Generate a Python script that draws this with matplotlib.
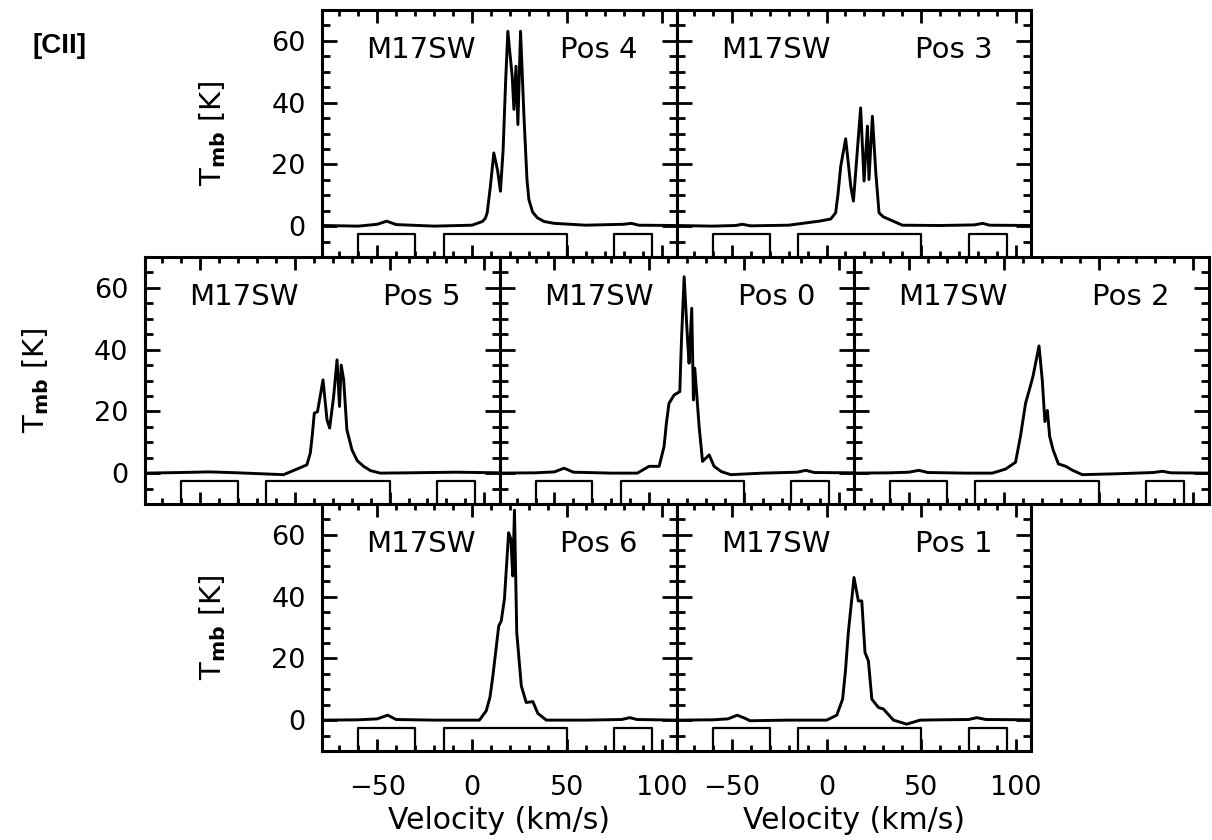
"""
[CII] spectra of M17SW, 7 positions in a hexagonal panel layout
"""

import matplotlib
matplotlib.use("Agg")
import matplotlib.pyplot as plt
from matplotlib.ticker import MultipleLocator

# 0. Data (velocity in km/s, Tmb in K)
v_pos4 = [-79, -60, -50, -45, -40, -20, 0, 5.5, 7.0, 8.0, 9.7, 11.5, 13.5, 15.0, 16.4, 17.7,
          18.9, 20.0, 21.2, 22.1, 23.2, 24.2, 25.6, 27.4, 29.0, 30.0, 32.0, 34.5, 38.0, 43.3,
          60, 80, 84, 88, 108]
t_pos4 = [0.2, 0.0, 0.6, 1.6, 0.5, 0.0, 0.3, 1.5, 2.5, 4.3, 12.9, 23.7, 18.0, 11.3, 24.6, 46.4,
          63.1, 56.0, 48.5, 37.8, 51.8, 32.9, 63.1, 35.6, 15.0, 8.6, 4.5, 2.7, 1.5, 0.9,
          0.3, 0.6, 0.9, 0.3, 0.2]

v_pos3 = [-79, -60, -48, -44.5, -40, -20, -4.0, 2.2, 4.8, 6.0, 7.5, 10.1, 12.8, 14.2, 15.9,
          18.0, 19.8, 21.6, 22.4, 24.2, 26.0, 27.7, 30.0, 33.0, 40.0, 60, 78, 82.3, 86, 108]
t_pos3 = [0.2, 0.0, 0.2, 0.6, 0.1, 0.3, 1.6, 2.3, 4.3, 10.0, 19.4, 28.3, 12.9, 8.1, 21.6,
          38.3, 14.6, 32.4, 15.1, 35.6, 17.3, 4.3, 3.0, 2.2, 0.3, 0.2, 0.4, 0.9, 0.3, 0.2]

v_pos5 = [-79, -60, -45, -30, -5.9, 1.1, 6.4, 8.2, 9.2, 10.3, 12.0, 14.9, 17.0, 18.4, 20.5,
          22.3, 23.6, 24.5, 25.8, 27.5, 30.2, 33.0, 36.3, 40.0, 45.1, 60, 85, 108]
t_pos5 = [0.0, 0.2, 0.4, 0.1, -0.5, 1.3, 2.7, 6.5, 12.0, 19.4, 19.9, 30.2, 17.3, 14.6, 24.8,
          36.7, 21.6, 35.0, 30.2, 14.0, 7.5, 4.0, 2.2, 0.8, 0.0, 0.1, 0.3, 0.1]

v_pos0 = [-79, -60, -50, -45, -40, -20, -6.3, -0.1, 5.2, 7.8, 9.0, 10.4, 13.1, 16.1, 17.0,
          18.4, 20.2, 21.0, 22.4, 23.3, 24.0, 26.3, 28.1, 31.6, 34.2, 38.0, 43.0, 60, 78, 82.6,
          87, 108]
t_pos0 = [0.0, 0.1, 0.4, 1.6, 0.3, 0.0, 0.0, 2.2, 2.2, 8.6, 16.0, 22.6, 25.3, 26.4, 43.1,
          63.6, 43.1, 35.6, 53.4, 23.7, 34.0, 15.1, 3.8, 5.9, 2.2, 0.5, -0.5, 0.0, 0.3, 0.9,
          0.2, 0.1]

v_pos2 = [-79, -60, -50, -44.8, -40, -20, -6.1, 0.9, 6.2, 8.8, 11.5, 13.5, 15.4, 18.6, 20.3,
          21.7, 23.0, 24.2, 26.0, 28.8, 32.7, 36.0, 41.4, 60, 79, 83.7, 88, 108]
t_pos2 = [0.0, 0.1, 0.3, 0.9, 0.2, 0.0, 0.0, 1.3, 3.5, 11.9, 22.6, 27.0, 31.3, 41.2, 30.2,
          16.7, 20.3, 11.9, 7.6, 3.0, 2.2, 1.0, -0.5, -0.2, 0.2, 0.6, 0.1, 0.0]

v_pos6 = [-79, -60, -50, -44.5, -40, -20, 3.9, 7.5, 9.5, 11.0, 14.1, 15.4, 17.1, 19.3, 20.5,
          21.5, 22.4, 23.6, 26.0, 28.6, 32.1, 34.7, 39.2, 60, 79, 83.2, 87, 108]
t_pos6 = [0.0, 0.1, 0.4, 1.6, 0.2, 0.0, 0.0, 3.0, 7.5, 14.3, 30.5, 32.1, 39.2, 60.7, 58.6,
          46.7, 68.0, 28.4, 11.1, 5.7, 6.0, 2.2, 0.0, 0.0, 0.2, 0.8, 0.2, 0.0]

v_pos1 = [-79, -60, -52, -47.1, -43, -40.4, -20, 0.1, 5.4, 8.5, 10.0, 11.5, 14.5, 16.8, 18.6,
          20.3, 22.1, 23.9, 27.4, 30.0, 35.3, 42.3, 49.4, 60, 75, 79.3, 84, 108]
t_pos1 = [0.0, 0.1, 0.4, 1.6, 0.6, -0.2, 0.0, 0.0, 1.6, 6.8, 16.0, 28.4, 46.2, 38.6, 38.6,
          21.9, 19.2, 6.8, 4.1, 3.6, 0.0, -1.3, 0.0, 0.1, 0.2, 0.8, 0.2, 0.1]

# baseline windows drawn as boxes below the spectra
win_lo = [-60, -15, 75]
win_hi = [-30, 50, 95]
box_top = -2.4

labels = ["Pos 4", "Pos 3", "Pos 5", "Pos 0", "Pos 2", "Pos 6", "Pos 1"]
spectra = [(v_pos4, t_pos4), (v_pos3, t_pos3), (v_pos5, t_pos5), (v_pos0, t_pos0),
           (v_pos2, t_pos2), (v_pos6, t_pos6), (v_pos1, t_pos1)]

XLIM = (-79, 108)
YLIM = (-10, 70)

# 1. Layout (pixels of a 1212x840 figure)
FW, FH = 1212, 840
PW, PH = 354.5, 247
row_top = [10, 257, 504]
row_left = [[322.25, 676.75], [145, 499.5, 854], [322.25, 676.75]]

fig = plt.figure(figsize=(FW / 100, FH / 100), dpi=100)

axes = []
for r, lefts in enumerate(row_left):
    for c, left in enumerate(lefts):
        ax = fig.add_axes([left / FW, 1 - (row_top[r] + PH) / FH, PW / FW, PH / FH])
        axes.append((ax, r, c))

for i, (ax, r, c) in enumerate(axes):
    v, t = spectra[i]
    ax.plot(v, t, color="black", lw=2.1, solid_joinstyle="round")
    for lo, hi in zip(win_lo, win_hi):
        ax.plot([lo, lo, hi, hi], [YLIM[0], box_top, box_top, YLIM[0]], color="black", lw=1.6)

    ax.set_xlim(*XLIM)
    ax.set_ylim(*YLIM)
    ax.xaxis.set_major_locator(MultipleLocator(50))
    ax.xaxis.set_minor_locator(MultipleLocator(10))
    ax.yaxis.set_major_locator(MultipleLocator(20))
    ax.yaxis.set_minor_locator(MultipleLocator(5))
    ax.tick_params(which="both", direction="in", top=True, right=True, width=2.0,
                   labelsize=19.5)
    ax.tick_params(axis="y", which="major", length=11, pad=12)
    ax.tick_params(axis="y", which="minor", length=5.5)
    ax.tick_params(axis="x", which="major", length=9, pad=17)
    ax.tick_params(axis="x", which="minor", length=4)
    for s in ax.spines.values():
        s.set_linewidth(2.2)

    ax.text(0.125, 0.84, "M17SW", transform=ax.transAxes, fontsize=21, va="center", ha="left")
    ax.text(0.89, 0.84, labels[i], transform=ax.transAxes, fontsize=21, va="center", ha="right")

    if c == 0:
        ax.set_ylabel(r"T$_{\mathbf{mb}}$ [K]", fontsize=21)
        ax.yaxis.set_label_coords(-0.265, 0.5)
    else:
        ax.set_yticklabels([])
    if r == 2:
        ax.set_xlabel("Velocity (km/s)", fontsize=21.5, labelpad=4)
    else:
        ax.set_xticklabels([])

fig.text(59 / FW, 1 - 46 / FH, "[CII]", fontsize=20, fontweight="bold",
         family="Liberation Sans", ha="center", va="center")

fig.savefig("out.png", dpi=100)
plt.close(fig)
